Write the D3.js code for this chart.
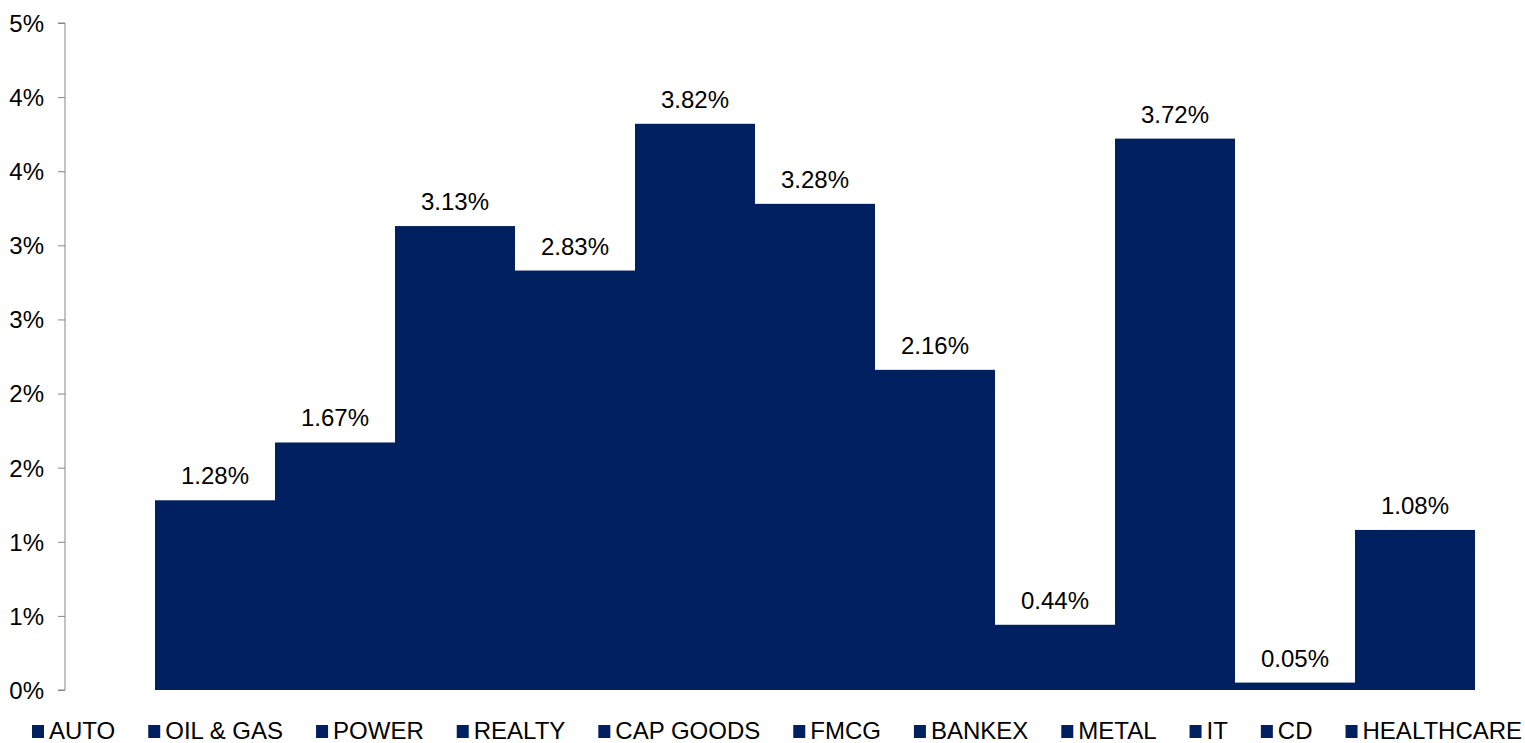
<!DOCTYPE html>
<html lang="en">
<head>
<meta charset="UTF-8">
<title>Sector returns</title>
<script src="https://cdn.jsdelivr.net/npm/d3@7/dist/d3.min.js"></script>
<style>
    body { margin: 0; background: #fff; }
    svg text { font-family: "Liberation Sans", Arial, sans-serif; fill: #000; }
    .axis path, .axis line { stroke: #868686; }
</style>
</head>
<body>
<svg width="1525" height="743"></svg>
<script>
    var sectors = ['AUTO', 'OIL & GAS', 'POWER', 'REALTY', 'CAP GOODS', 'FMCG', 'BANKEX', 'METAL', 'IT', 'CD', 'HEALTHCARE'];
    var returns = [1.28, 1.67, 3.13, 2.83, 3.82, 3.28, 2.16, 0.44, 3.72, 0.05, 1.08];
    var yTicks = [0, 0.5, 1, 1.5, 2, 2.5, 3, 3.5, 4, 4.5];
    var barColor = '#002060';

    var svg = d3.select('svg');

    var y = d3.scaleLinear().domain([0, 4.5]).range([690, 23]);
    var x = d3.scaleBand().domain(sectors).range([155, 1475]).padding(0);

    // y axis, labels rounded to whole percent like the source
    var yAxis = svg.append('g')
        .attr('class', 'axis')
        .attr('transform', 'translate(65,0)')
        .call(d3.axisLeft(y).tickValues(yTicks).tickSize(7).tickPadding(14)
            .tickFormat(function(d) { return Math.round(d) + '%'; }));
    yAxis.select('.domain').attr('d', 'M-7,' + y(4.5) + 'H0V' + y(0) + 'H-7');
    yAxis.selectAll('text').style('font-size', '24px').attr('dy', '0.35em');

    svg.selectAll('.bar')
        .data(returns)
        .enter().append('rect')
        .attr('class', 'bar')
        .attr('x', function(d, i) { return x(sectors[i]); })
        .attr('y', function(d) { return y(d); })
        .attr('width', x.bandwidth())
        .attr('height', function(d) { return y(0) - y(d); })
        .attr('fill', barColor);

    svg.selectAll('.val')
        .data(returns)
        .enter().append('text')
        .attr('class', 'val')
        .attr('x', function(d, i) { return x(sectors[i]) + x.bandwidth() / 2; })
        .attr('y', function(d) { return y(d) - 16; })
        .attr('text-anchor', 'middle')
        .style('font-size', '24px')
        .text(function(d) { return d.toFixed(2) + '%'; });

    // legend
    var legend = svg.append('g').attr('transform', 'translate(0,731)');
    var lx = 32;
    sectors.forEach(function(s) {
        var item = legend.append('g').attr('transform', 'translate(' + lx + ',0)');
        item.append('rect').attr('x', 0).attr('y', -6).attr('width', 12).attr('height', 13).attr('fill', barColor);
        var t = item.append('text').attr('x', 17).attr('dy', '0.35em').style('font-size', '24px').text(s);
        lx += 17 + t.node().getComputedTextLength() + 33;
    });
</script>
</body>
</html>
